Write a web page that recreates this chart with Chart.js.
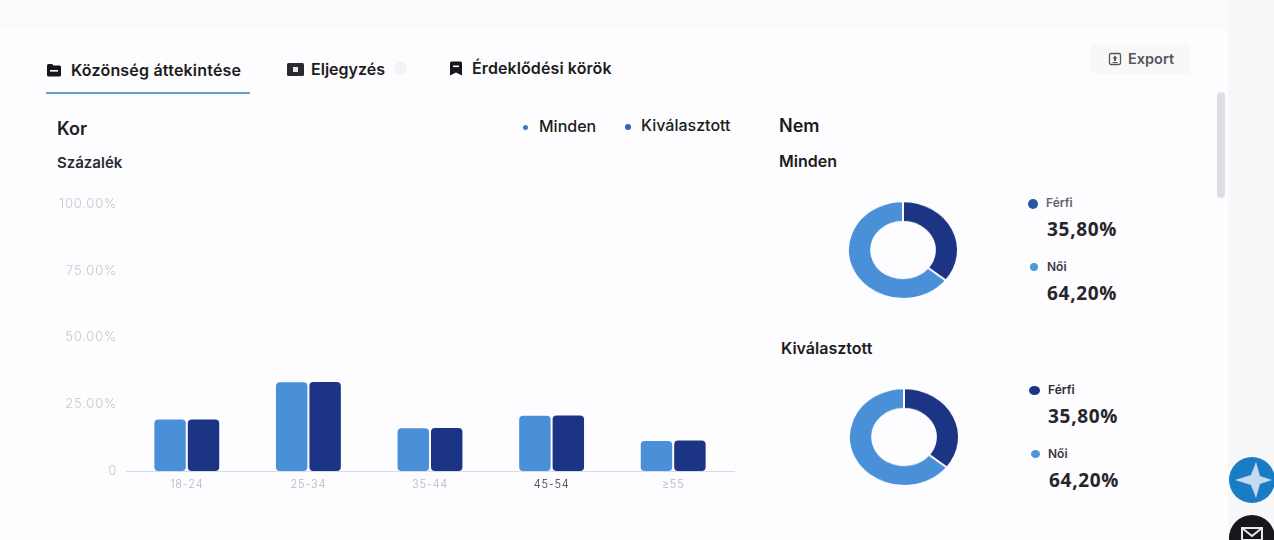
<!DOCTYPE html>
<html lang="hu">
<head>
<meta charset="utf-8">
<title>Közönség áttekintése</title>
<script src="https://cdn.jsdelivr.net/npm/chart.js@4"></script>
<style>
  html, body { margin: 0; padding: 0; }
  body { width: 1274px; height: 540px; overflow: hidden; position: relative; background: #fdfcfe; font-family: Inter, "Noto Sans", sans-serif; color: #1c1c20; }
  .abs { position: absolute; white-space: nowrap; line-height: 1; }
  .b { font-weight: 600; }
  canvas { position: absolute; }
  .donut { transform: scaleY(0.885); }
  .dot { position: absolute; border-radius: 50%; }
  .pct { font-family: "Open Sans", Inter, sans-serif; font-weight: 700; font-size: 19px; letter-spacing: 0.7px; color: #26262a; }
  .strip-top { position: absolute; left: 0; top: 0; width: 1274px; height: 28px; background: #fbfbfc; }
  .strip-right { position: absolute; left: 1228px; top: 0; width: 46px; height: 540px; background: #f8f8fa; }
</style>
</head>
<body>
<div class="strip-top"></div>
<div class="strip-right"></div>

<!-- Tabs -->
<svg class="abs" style="left:46px;top:63px" width="16" height="14" viewBox="0 0 16 14"><path d="M1 2.5a1.5 1.5 0 0 1 1.5-1.5h3.5l1.5 1.5h6A1.5 1.5 0 0 1 15 4v8a1.5 1.5 0 0 1-1.5 1.5h-11A1.5 1.5 0 0 1 1 12z" fill="#17171b"/><rect x="4" y="7" width="8" height="1.6" fill="#fff"/></svg>
<div class="abs b" style="left:71px;top:62px;font-size:16px;letter-spacing:0.2px">Közönség áttekintése</div>
<div class="abs" style="left:46px;top:92px;width:204px;height:2px;background:#6a9fc4"></div>
<svg class="abs" style="left:287px;top:63px" width="17" height="13" viewBox="0 0 17 13"><rect width="17" height="13" rx="1.5" fill="#2a2a30"/><rect x="6" y="4" width="5" height="5" fill="#e8e8ea"/></svg>
<div class="abs b" style="left:311px;top:61px;font-size:16px">Eljegyzés</div>
<div class="dot" style="left:394px;top:62px;width:13px;height:13px;background:#f3f3f5"></div>
<svg class="abs" style="left:449px;top:61px" width="14" height="15" viewBox="0 0 14 15"><path d="M1 2a1.5 1.5 0 0 1 1.5-1.5h9A1.5 1.5 0 0 1 13 2v12.500l-6-3-6 3z" fill="#17171b"/><rect x="4" y="4.500" width="6" height="1.600" fill="#fff"/></svg>
<div class="abs b" style="left:472px;top:60px;font-size:16px;letter-spacing:0.1px">Érdeklődési körök</div>

<!-- Export -->
<div class="abs" style="left:1091px;top:44px;width:99px;height:30px;background:#f8f8f9;border-radius:4px"></div>
<svg class="abs" style="left:1108px;top:52px" width="14" height="14" viewBox="0 0 14 14"><rect x="1.500" y="1.500" width="11" height="11" rx="1.500" fill="none" stroke="#55555c" stroke-width="1.300"/><path d="M7 3.500l2.500 3h-1.500v2.500h-2v-2.500h-1.500z" fill="#55555c"/><rect x="4.500" y="10" width="5" height="1" fill="#55555c"/></svg>
<div class="abs b" style="left:1128px;top:52px;font-size:14.500px;color:#55555c">Export</div>

<!-- Bar chart header -->
<div class="abs b" style="left:57px;top:120px;font-size:18px">Kor</div>
<div class="abs b" style="left:57px;top:155px;font-size:15px;color:#2a2a2e">Százalék</div>
<div class="dot" style="left:523px;top:125px;width:5px;height:5px;background:#3f78c4"></div>
<div class="abs" style="left:539px;top:118px;font-size:16px;font-weight:500">Minden</div>
<div class="dot" style="left:625px;top:124px;width:6px;height:6px;background:#2f62b8"></div>
<div class="abs" style="left:641px;top:117px;font-size:16px;font-weight:500">Kiválasztott</div>
<canvas id="ageChart" style="left:40px;top:190px"></canvas>

<!-- Gender -->
<div class="abs b" style="left:779px;top:117px;font-size:18px">Nem</div>
<div class="abs b" style="left:779px;top:153px;font-size:16px">Minden</div>
<canvas id="genderAll" class="donut" style="left:843px;top:190px"></canvas>
<div class="dot" style="left:1028px;top:199px;width:10px;height:10px;background:#2a55a5"></div>
<div class="abs b" style="left:1046px;top:197px;font-size:12px;color:#5d6470" id="la0"></div>
<div class="abs pct" style="left:1047px;top:220px" id="va0"></div>
<div class="dot" style="left:1030px;top:263px;width:8px;height:8px;background:#4f9ad8"></div>
<div class="abs b" style="left:1047px;top:261px;font-size:12px;color:#3a3a40" id="la1"></div>
<div class="abs pct" style="left:1047px;top:284px" id="va1"></div>

<div class="abs b" style="left:781px;top:340px;font-size:16px">Kiválasztott</div>
<canvas id="genderSel" class="donut" style="left:844px;top:377px"></canvas>
<div class="dot" style="left:1029px;top:386px;width:11px;height:9px;background:#1b3484"></div>
<div class="abs b" style="left:1048px;top:384px;font-size:12px;color:#2c2c32" id="lb0"></div>
<div class="abs pct" style="left:1048px;top:407px" id="vb0"></div>
<div class="dot" style="left:1031px;top:450px;width:9px;height:8px;background:#4f94d8"></div>
<div class="abs b" style="left:1048px;top:448px;font-size:12px;color:#3a3a40" id="lb1"></div>
<div class="abs pct" style="left:1049px;top:471px" id="vb1"></div>

<!-- Scrollbar and floating buttons -->
<div class="abs" style="left:1217px;top:92px;width:8px;height:106px;border-radius:4px;background:#dedee4"></div>
<svg class="abs" style="left:1227px;top:456px" width="47" height="48" viewBox="0 0 47 48"><circle cx="25" cy="24" r="23" fill="#1a7cc4"/><path d="M29 6l4 14 12 4-12 4-4 14-5-13-16-5 16-5z" fill="#c8d8ee"/></svg>
<svg class="abs" style="left:1227px;top:514px" width="47" height="26" viewBox="0 0 47 26"><circle cx="25" cy="24" r="23" fill="#17171b"/><rect x="15" y="14" width="20" height="12" fill="none" stroke="#e8e8ea" stroke-width="2"/><path d="M15 14l10 8 10-8" fill="none" stroke="#e8e8ea" stroke-width="2"/></svg>

<script>
// Age chart data
const ageLabels = ['18-24', '25-34', '35-44', '45-54', '≥55']
const ageAll = [19.3, 33.2, 16, 20.7, 11.2]
const ageSelected = [19.3, 33.3, 16.1, 20.8, 11.4]
const yTicks = [0, 25, 50, 75, 100]

// Gender data
const genderLabels = ['Férfi', 'Női']
const genderAllValues = [35.8, 64.2]
const genderSelValues = [35.8, 64.2]

const LIGHT = '#4a90d9'
const DARK = '#1b3484'

const fmtPct = v => v.toFixed(2).replace('.', ',') + '%'

function fillLegend(prefix, values) {
  genderLabels.forEach((l, i) => {
    document.getElementById('l' + prefix + i).textContent = l
    document.getElementById('v' + prefix + i).textContent = fmtPct(values[i])
  })
}
fillLegend('a', genderAllValues)
fillLegend('b', genderSelValues)

const ageCanvas = document.getElementById('ageChart')
ageCanvas.width = 710
ageCanvas.height = 310

// tick labels in the reference are widely spaced
const spacedTicks = {
  id: 'spacedTicks',
  beforeDraw: c => { c.ctx.letterSpacing = '0.8px' },
}

new Chart(ageCanvas, {
  type: 'bar',
  plugins: [spacedTicks],
  data: {
    labels: ageLabels,
    datasets: [
      { label: 'Minden', data: ageAll, backgroundColor: LIGHT, borderRadius: 4, borderSkipped: false },
      { label: 'Kiválasztott', data: ageSelected, backgroundColor: DARK, borderRadius: 4, borderSkipped: false },
    ]
  },
  options: {
    responsive: false,
    animation: false,
    categoryPercentage: 0.55,
    barPercentage: 0.94,
    layout: { padding: { top: 14, right: 16 } },
    plugins: { legend: { display: false }, tooltip: { enabled: false } },
    scales: {
      x: {
        grid: { display: false, tickLength: 0 },
        border: { color: '#d9dce4' },
        ticks: {
          color: ctx => ctx.index === 3 ? '#33333a' : '#b4b6bc',
          font: { family: 'Inter', size: 11, weight: 300 },
          padding: 7,
          maxRotation: 0,
        },
        afterFit: s => { s.height = 29 },
      },
      y: {
        min: 0,
        max: 100,
        afterBuildTicks: s => { s.ticks = yTicks.map(value => ({ value })) },
        grid: { display: false },
        border: { display: false },
        ticks: {
          color: '#c6c8cd',
          font: { family: 'Inter', size: 13, weight: 300 },
          padding: 1,
          callback: v => v === 0 ? '0' : v.toFixed(2) + '%',
        },
        afterFit: s => { s.width = 86 },
      },
    },
  },
})

function donut(id, values) {
  const c = document.getElementById(id)
  c.width = 120
  c.height = 120
  new Chart(c, {
    type: 'doughnut',
    data: {
      labels: genderLabels,
      datasets: [{ data: values, backgroundColor: [DARK, LIGHT], borderColor: '#fdfcfe', borderWidth: 2 }]
    },
    options: {
      responsive: false,
      animation: false,
      cutout: '58%',
      layout: { padding: 4 },
      plugins: { legend: { display: false }, tooltip: { enabled: false } },
    },
  })
}
donut('genderAll', genderAllValues)
donut('genderSel', genderSelValues)
</script>
</body>
</html>
